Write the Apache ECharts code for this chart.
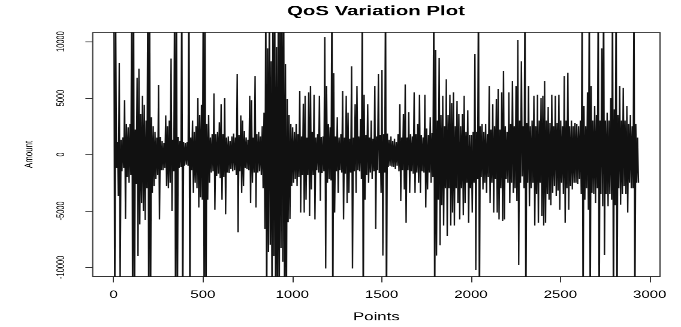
<!DOCTYPE html>
<html>
<head>
<meta charset="utf-8">
<script src="https://cdn.jsdelivr.net/npm/echarts@6/dist/echarts.min.js"></script>
<style>
  html, body { margin: 0; padding: 0; background: #fff; overflow: hidden; }
  /* the source image is stretched sideways, so draw at base size and stretch it the same way */
  #chart { width: 568px; height: 394px; transform: scale(1.1989, 0.8299); transform-origin: 0 0; }
</style>
</head>
<body>
<div id="chart"></div>
<script>
// one bin = 10 points; peak and trough for each bin
const BIN = 10;
const binHi = [
  15000, 12000, 1100, 8100, 1300, 1500, 4800, 2700, 2400, 2700,
  15000, 15000, 2200, 6800, 7600, 3600, 5200, 4400, 3000, 15000,
  15000, 3300, 2500, 2000, 1500, 6150, 1550, 1200, 1000, 3450,
  2500, 3000, 8500, 1300, 15000, 15000, 1550, 1200, 15000, 1100,
  1000, 1100, 15000, 1500, 3000, 2000, 2500, 5000, 3500, 4400,
  15000, 15000, 2700, 3500, 1500, 1800, 5400, 1800, 2000, 2850,
  4450, 1800, 5000, 1500, 1600, 1200, 1600, 1850, 1500, 7100,
  1700, 3450, 3000, 2100, 1500, 1300, 5200, 4800, 1500, 6950,
  1800, 2000, 1600, 2500, 3700, 15000, 9400, 15000, 8250, 15000,
  15000, 9500, 15000, 15000, 15000, 15000, 8000, 4900, 3500, 2700,
  2400, 2000, 2700, 1800, 5600, 1600, 4500, 5200, 1500, 5500,
  6050, 2000, 5300, 1500, 1800, 5200, 1550, 1600, 10400, 6050,
  2700, 2400, 15000, 7200, 1600, 3300, 1500, 1800, 5600, 1500,
  5200, 3700, 1400, 7800, 1500, 4450, 6050, 1600, 3150, 15000,
  5300, 1700, 4450, 1500, 3000, 1400, 6050, 1600, 7100, 1700,
  7500, 1800, 15000, 1850, 1300, 1600, 1200, 1400, 1100, 1800,
  4450, 1500, 3600, 6200, 1500, 3750, 1800, 1600, 5500, 1800,
  2700, 5300, 1700, 1500, 5300, 2300, 1700, 3300, 1900, 15000,
  9250, 3000, 8550, 3500, 5200, 2500, 6650, 3500, 5300, 4550,
  5500, 2500, 4750, 3600, 2500, 3600, 5200, 2000, 3900, 1700,
  1700, 2000, 8900, 2000, 15000, 2500, 2700, 2000, 2700, 1800,
  6050, 2200, 4450, 2500, 4900, 5800, 2200, 5500, 7400, 2500,
  2000, 5500, 2700, 6500, 2500, 6050, 10150, 3000, 8250, 2500,
  15000, 2800, 6050, 2500, 3000, 5200, 2500, 5300, 3000, 5000,
  5200, 6500, 3000, 4200, 2800, 5300, 2500, 5200, 2800, 5300,
  3000, 2500, 6950, 3000, 7250, 2500, 3000, 2500, 2800, 2700,
  2500, 3000, 15000, 4300, 2500, 5500, 15000, 6050, 3000, 4300,
  3500, 15000, 3000, 9400, 15000, 3000, 3700, 3000, 5000, 15000,
  4000, 15000, 3500, 6050, 3000, 5900, 3000, 4300, 2700, 3500,
  2500, 15000, 2700, 1500
];
const binLo = [
  -15000, -1200, -3700, -12000, -1500, -1200, -5700, -2000, -2500, -1800,
  -15000, -15000, -2600, -9000, -6200, -4300, -5000, -5800, -3000, -15000,
  -15000, -3400, -2800, -2200, -1800, -5750, -1400, -1400, -1200, -2800,
  -3000, -2500, -5000, -1500, -15000, -15000, -1200, -1100, -15000, -1000,
  -900, -1000, -15000, -1400, -3400, -2500, -3000, -4700, -3800, -4000,
  -15000, -15000, -4000, -2500, -1600, -1500, -4900, -1900, -1700, -2100,
  -4000, -2000, -5300, -1600, -1650, -1300, -1500, -1400, -1800, -6900,
  -1500, -3400, -2800, -1200, -1300, -1400, -4300, -2500, -1600, -4700,
  -1600, -1500, -1800, -3000, -6600, -15000, -8650, -8000, -15000, -9000,
  -15000, -15000, -15000, -8300, -9500, -15000, -15000, -6000, -5700, -2800,
  -2500, -2200, -2800, -2000, -5150, -1800, -5150, -4000, -1800, -5450,
  -3100, -1800, -5750, -1400, -1600, -4100, -1650, -1500, -10100, -2500,
  -2200, -2300, -15000, -5150, -1500, -3400, -1400, -1600, -5750, -1700,
  -4300, -3400, -1600, -10100, -1500, -3400, -1400, -1500, -2200, -15000,
  -4000, -1800, -2500, -1600, -2200, -1500, -6600, -1400, -1650, -3400,
  -8950, -1600, -15000, -1100, -1000, -1080, -1100, -1300, -1000, -1500,
  -4150, -1400, -3100, -6050, -1400, -3400, -1500, -1700, -3400, -1600,
  -2500, -3400, -1500, -1600, -4700, -3100, -1600, -2500, -2000, -15000,
  -8950, -4000, -8050, -4500, -6300, -3000, -7200, -3000, -6300, -5150,
  -6300, -3000, -4300, -5750, -3000, -5400, -4300, -2500, -6050, -3000,
  -5150, -2500, -10250, -2200, -15000, -2000, -3100, -2500, -3400, -2000,
  -4300, -2500, -5150, -2200, -5150, -5750, -3000, -5900, -5750, -2200,
  -2500, -4300, -2500, -3400, -3000, -4150, -9800, -2500, -1950, -3000,
  -15000, -2500, -4600, -3000, -2500, -6300, -3500, -6050, -2500, -5450,
  -6300, -6050, -3500, -4000, -4500, -3400, -2800, -3700, -3200, -4900,
  -2500, -3500, -6050, -3000, -4900, -2800, -3100, -2500, -2500, -2600,
  -2200, -3500, -15000, -4000, -3000, -4900, -15000, -3400, -3500, -4300,
  -3000, -15000, -3500, -4600, -8900, -3500, -4600, -3500, -4000, -15000,
  -4500, -15000, -3000, -4450, -3500, -2800, -3500, -5150, -2500, -3000,
  -3000, -15000, -2500, -2500
];
const xTicks = [0, 500, 1000, 1500, 2000, 2500, 3000];
const yTicks = [-10000, -5000, 0, 5000, 10000];

// zigzag: peak then trough inside every bin
const series = [];
binHi.forEach((hi, k) => {
  series.push([k * BIN + 2, hi]);
  series.push([k * BIN + 7, binLo[k]]);
});

const chart = echarts.init(document.getElementById("chart"), null, { devicePixelRatio: 2 });
const font = "'Liberation Sans', Arial, Helvetica, sans-serif";
const plain = (v) => String(v);

chart.setOption({
  animation: false,
  title: {
    text: "QoS Variation Plot",
    left: 313.6,
    top: 5.5,
    padding: 0,
    textAlign: "center",
    textStyle: { fontFamily: font, fontSize: 17, fontWeight: "bold", color: "#000" },
  },
  grid: {
    left: 77.3,
    right: 17.5,
    top: 39.2,
    bottom: 55.4,
    show: true,
    borderColor: "#333",
    borderWidth: 1,
    backgroundColor: "#fff",
  },
  xAxis: {
    type: "value",
    min: -116.6,
    max: 3057.6,
    name: "Points",
    nameLocation: "middle",
    nameGap: 42,
    nameTextStyle: { fontFamily: font, fontSize: 14, color: "#000" },
    axisLine: { show: false, onZero: false },
    axisTick: { show: true, length: 7.2, customValues: xTicks, lineStyle: { color: "#333" } },
    axisLabel: { customValues: xTicks, margin: 16, formatter: plain, fontFamily: font, fontSize: 12.5, color: "#000" },
    splitLine: { show: false },
  },
  yAxis: {
    type: "value",
    min: -10800,
    max: 10800,
    name: "Amount",
    nameLocation: "middle",
    nameGap: 48,
    nameRotate: 90,
    nameTextStyle: { fontFamily: font, fontSize: 9.5, color: "#000" },
    axisLine: { show: false, onZero: false },
    axisTick: { show: true, length: 6.1, customValues: yTicks, lineStyle: { color: "#333" } },
    axisLabel: { customValues: yTicks, rotate: 90, margin: 22, formatter: plain, fontFamily: font, fontSize: 9, color: "#000" },
    splitLine: { show: false },
  },
  series: [
    {
      type: "line",
      data: series,
      showSymbol: false,
      clip: true,
      lineStyle: { color: "#111", width: 1.15 },
    },
  ],
});
</script>
</body>
</html>
